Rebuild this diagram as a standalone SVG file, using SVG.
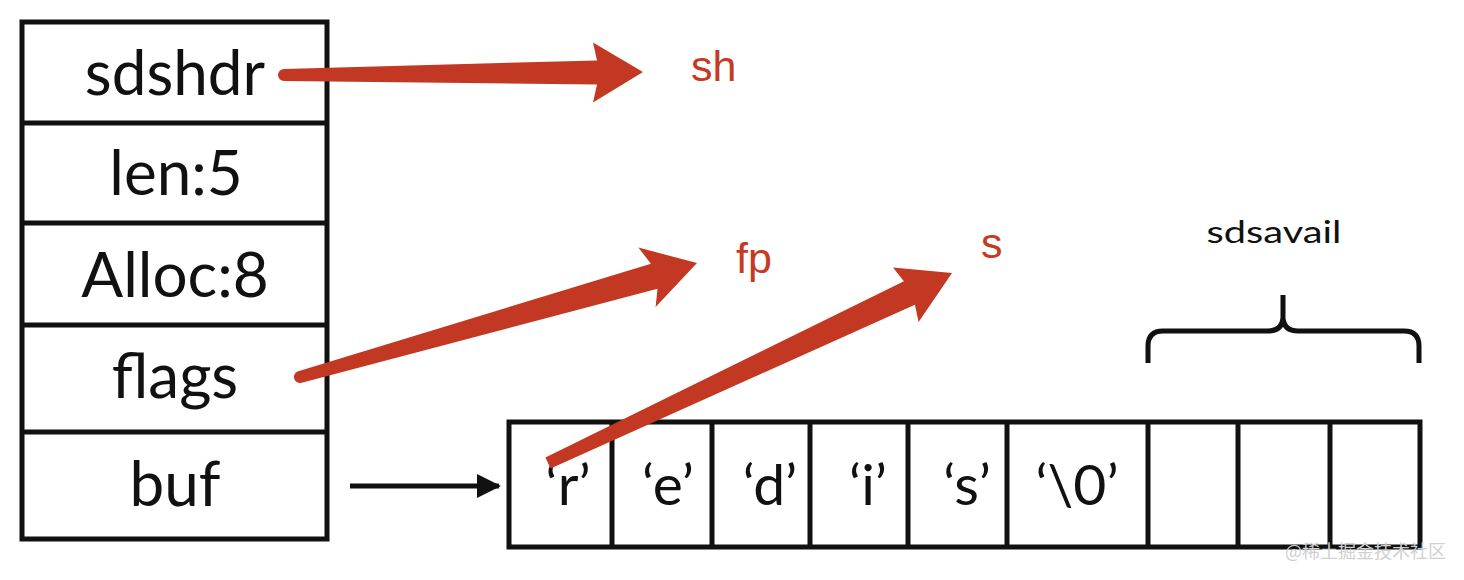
<svg xmlns="http://www.w3.org/2000/svg" width="1464" height="580" viewBox="0 0 1464 580">
  <defs>
    <style>
      .box { fill: #ffffff; stroke: #111111; stroke-width: 5; }
      .div { stroke: #111111; stroke-width: 5; fill: none; }
      .lbl { font-family: Lato, "Noto Sans", sans-serif; font-size: 62px; fill: #111111; text-anchor: middle; }
      .cell { font-family: Lato, "Noto Sans", sans-serif; font-size: 57px; fill: #111111; text-anchor: middle; }
      .red { font-family: "Liberation Sans", Arial, sans-serif; font-size: 43px; fill: #c53a22; }
      .redarrow { fill: #c33822; stroke: none; }
      .wm { font-family: "Noto Sans CJK SC", sans-serif; font-size: 18px; fill: #d0d0d0; }
    </style>
    <marker id="blackhead" markerWidth="26" markerHeight="26" refX="22" refY="13" orient="auto" markerUnits="userSpaceOnUse" viewBox="0 0 26 26">
      <path d="M0,1 L24,13 L0,25 Z" fill="#111111"/>
    </marker>
  </defs>
  <rect width="1464" height="580" fill="#ffffff"/>

  <g id="struct">
    <rect class="box" x="22" y="22" width="305" height="517"/>
    <line class="div" x1="22" y1="123" x2="327" y2="123"/>
    <line class="div" x1="22" y1="223" x2="327" y2="223"/>
    <line class="div" x1="22" y1="325" x2="327" y2="325"/>
    <line class="div" x1="22" y1="432" x2="327" y2="432"/>
  </g>
  <g id="f-sdshdr"><text class="lbl" x="175" y="95">sdshdr</text></g>
  <g id="f-len"><text class="lbl" x="176" y="195">len:5</text></g>
  <g id="f-alloc"><text class="lbl" x="175" y="297">Alloc:8</text></g>
  <g id="f-flags"><text class="lbl" x="175" y="398">flags</text></g>
  <g id="f-buf"><text class="lbl" x="175" y="506">buf</text></g>

  <g id="array">
    <rect class="box" x="509" y="422" width="911" height="125"/>
    <line class="div" x1="612" y1="422" x2="612" y2="547"/>
    <line class="div" x1="712" y1="422" x2="712" y2="547"/>
    <line class="div" x1="810" y1="422" x2="810" y2="547"/>
    <line class="div" x1="908" y1="422" x2="908" y2="547"/>
    <line class="div" x1="1007" y1="422" x2="1007" y2="547"/>
    <line class="div" x1="1148" y1="422" x2="1148" y2="547"/>
    <line class="div" x1="1238" y1="422" x2="1238" y2="547"/>
    <line class="div" x1="1330" y1="422" x2="1330" y2="547"/>
  </g>
  <g id="c-r"><text class="cell" x="568" y="505">‘r’</text></g>
  <g id="c-e"><text class="cell" x="668" y="505">‘e’</text></g>
  <g id="c-d"><text class="cell" x="770" y="505">‘d’</text></g>
  <g id="c-i"><text class="cell" x="868" y="505">‘i’</text></g>
  <g id="c-s"><text class="cell" x="967" y="505">‘s’</text></g>
  <g id="c-nul"><text class="cell" x="1077" y="505">‘\0’</text></g>

  <g id="sdsavail">
    <text x="1274" y="243" font-family="Lato, 'Noto Sans', sans-serif" font-size="31" fill="#111111" text-anchor="middle" textLength="135" lengthAdjust="spacingAndGlyphs">sdsavail</text>
    <path class="div" d="M1148,363 L1148,346 Q1148,331 1163,331 L1268,331 Q1282,331 1283,318 L1283,295 M1283,318 Q1284,331 1298,331 L1404,331 Q1419,331 1419,346 L1419,363"/>
  </g>

  <g id="lbl-sh"><text class="red" x="691" y="81">sh</text></g>
  <g id="lbl-fp"><text class="red" x="736" y="273">fp</text></g>
  <g id="lbl-s"><text class="red" x="981" y="258">s</text></g>

  <g id="connectors">
    <path class="redarrow" d="M284,69 L597,60.4 L593,42.4 L643,72 L593,102.4 L597,84.4 L284,81 A6,6 0 0 1 284,69 Z"/>
    <path class="redarrow" d="M298.3,371.2 L650.9,263.8 L638.4,247.6 L697,263 L655.6,307.1 L657.5,288.7 L301.7,382.8 A6,6 0 0 1 298.3,371.2 Z"/>
    <path class="redarrow" d="M545.4,457.6 L903.9,281.2 L893,267.5 L952,273 L918.6,321.9 L914.9,304.8 L550.6,468.4 Z"/>
    <line x1="350" y1="486" x2="499" y2="486" stroke="#111111" stroke-width="5" marker-end="url(#blackhead)"/>
  </g>

  <text class="wm" x="1285" y="558">@稀土掘金技术社区</text>
</svg>
